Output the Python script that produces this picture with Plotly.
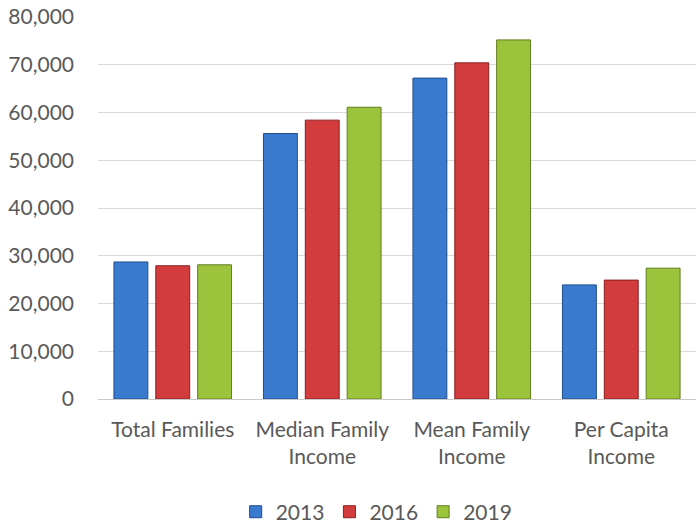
import plotly.graph_objects as go

categories = ["Total Families", "Median Family<br>Income", "Mean Family<br>Income", "Per Capita<br>Income"]
years = ["2013", "2016", "2019"]
values_2013 = [28700, 55600, 67200, 23900]
values_2016 = [27900, 58400, 70400, 24900]
values_2019 = [28100, 61100, 75200, 27400]

colors = {"2013": "#3a7bd0", "2016": "#d23c3c", "2019": "#9bc43c"}
edges = {"2013": "#1f4e8c", "2016": "#8a1f1f", "2019": "#5f7d1f"}

fig = go.Figure()
for year, vals in zip(years, [values_2013, values_2016, values_2019]):
    fig.add_trace(go.Bar(x=categories, y=vals, name=year,
                         marker=dict(color=colors[year], line=dict(color=edges[year], width=1))))

fig.update_layout(
    width=696, height=524,
    margin=dict(l=98, r=0, t=17, b=125, autoexpand=False),
    plot_bgcolor="white", paper_bgcolor="white",
    font=dict(family="Lato, Open Sans, sans-serif", size=21, color="#595959"),
    barmode="group", bargap=0.16, bargroupgap=0.19,
    showlegend=True,
    legend=dict(orientation="h", x=0.466, xanchor="center", y=-0.296, yanchor="middle",
                font=dict(size=21), itemwidth=30, tracegroupgap=0),
)
fig.update_yaxes(range=[0, 80000], dtick=10000, tickformat=",", showgrid=True,
                 gridcolor="#d9d9d9", gridwidth=1, zeroline=True, zerolinecolor="#c8c8c8",
                 zerolinewidth=1, ticklabelstandoff=23, showline=False, automargin=False,
                 ticklabeloverflow="allow")
fig.update_xaxes(showline=False, ticklabelstandoff=16, automargin=False)

# drop the default 8px page margin so the figure fills the window
fig.write_html("out.html", config={"displayModeBar": False},
               post_script="document.body.style.margin='0';")
